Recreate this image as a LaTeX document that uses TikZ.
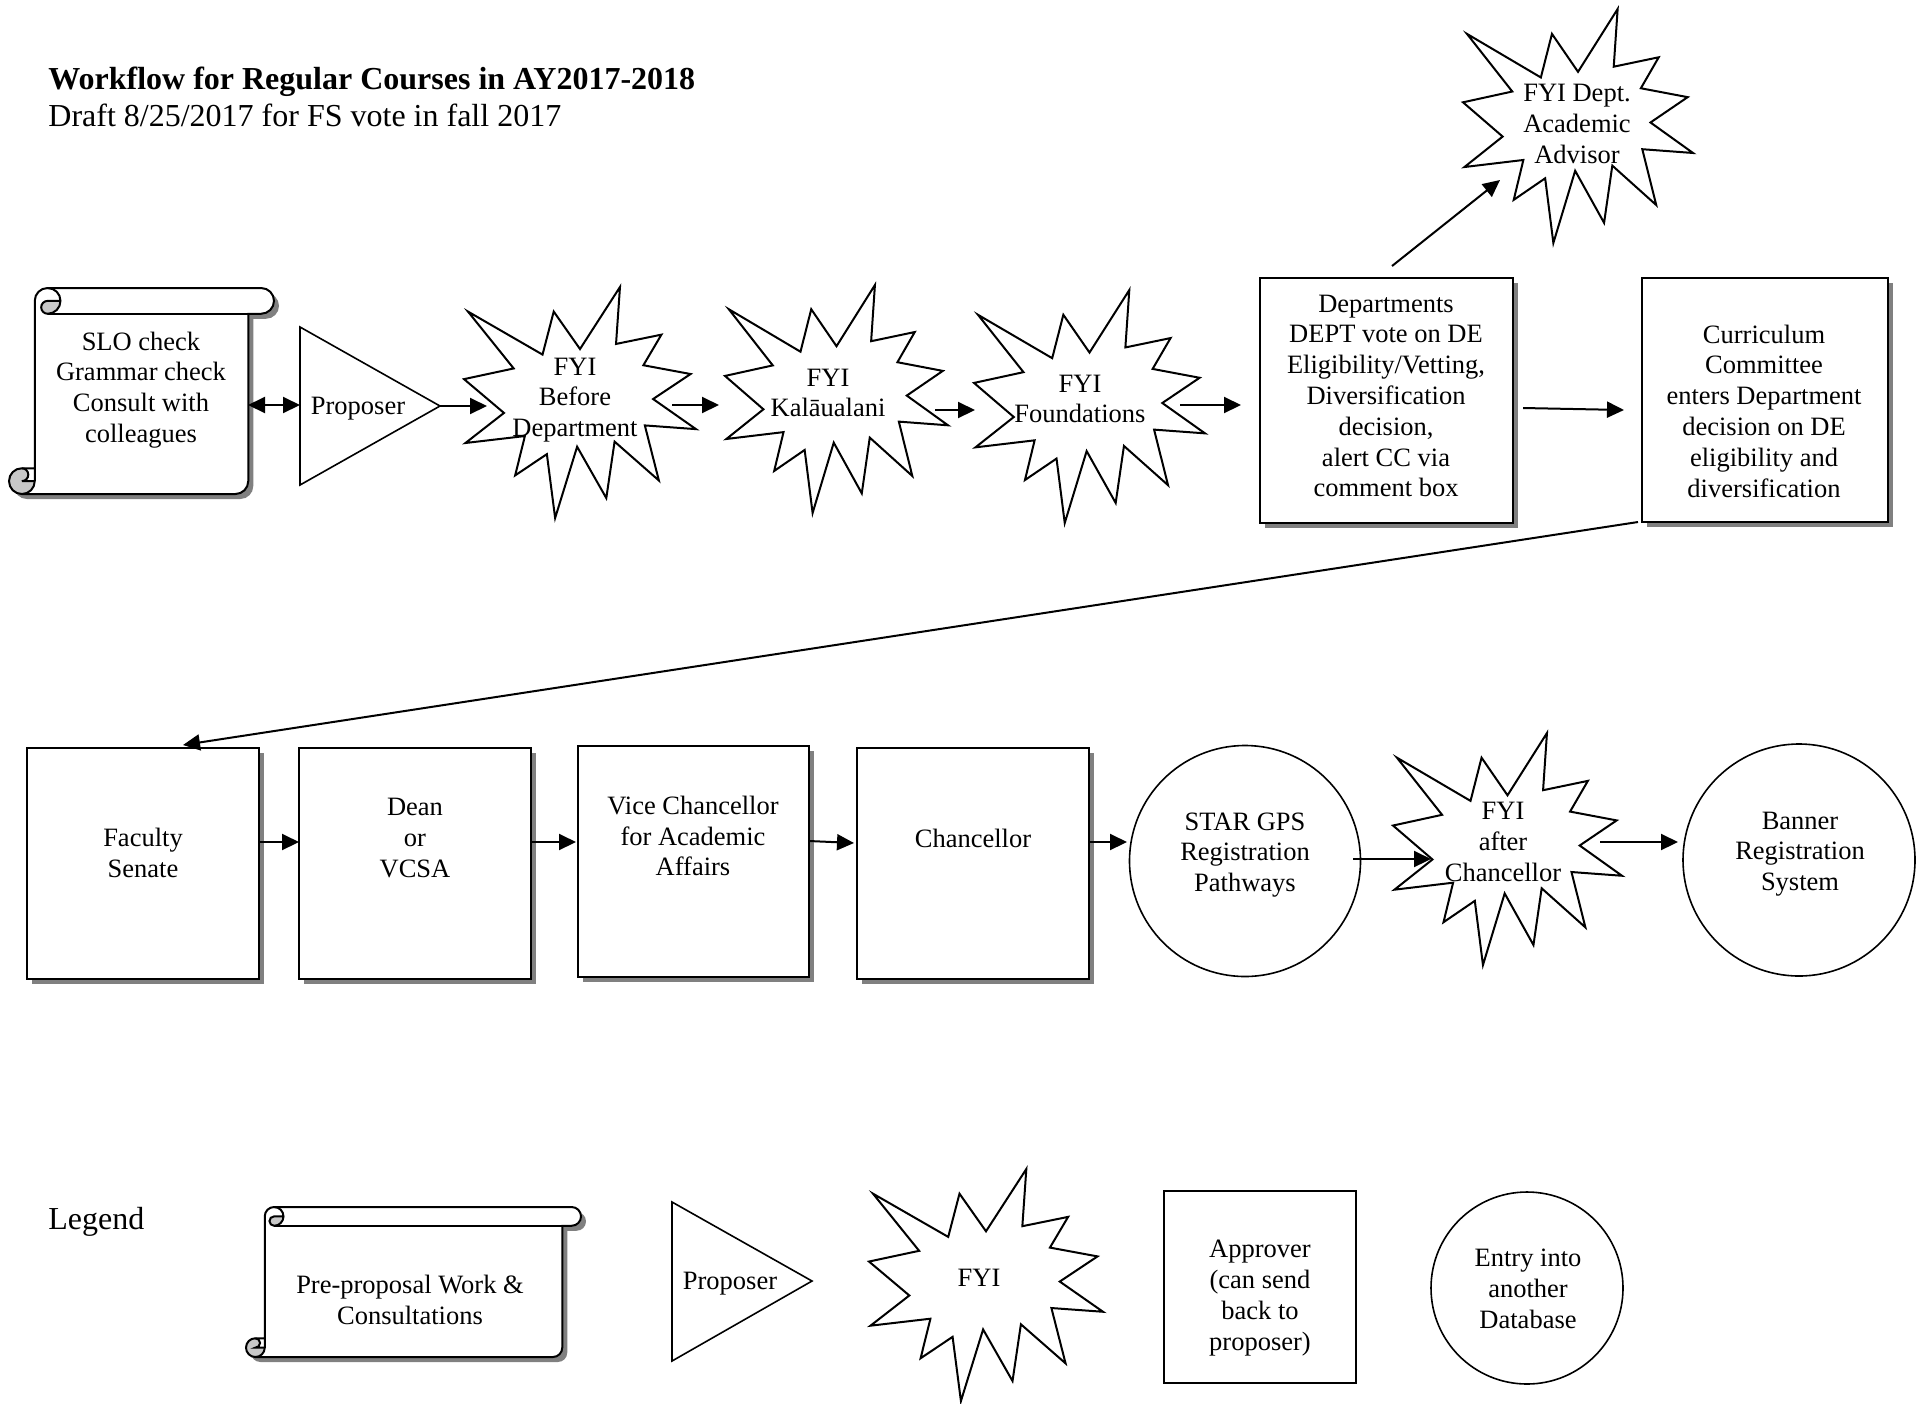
\documentclass[tikz,border=0pt]{standalone}
\usepackage{fontspec}
\setmainfont{Liberation Serif}
\usetikzlibrary{arrows.meta}
\definecolor{shadowgray}{RGB}{128,128,128}
\definecolor{curlgray}{RGB}{200,200,200}
\tikzset{
  txt/.style={align=center, font=\fontsize{13.25}{15.4}\selectfont, inner sep=0pt},
  ttl/.style={anchor=west, font=\fontsize{16}{19}\selectfont, inner sep=0pt},
  outl/.style={draw=black, line width=1pt, fill=white},
  conn/.style={line width=1pt, -{Triangle[length=8.5pt,width=8pt]}},
  dconn/.style={line width=1pt, {Triangle[length=8.5pt,width=8pt]}-{Triangle[length=8.5pt,width=8pt]}}
}
% irregular seal (explosion) polygon, unit square 0..100
\newcommand{\sealshape}[4]{%
 \begin{scope}[shift={(#1,#2)},xscale=#3,yscale=#4]
 \draw[outl] (50,26.85) -- (67.23,0) -- (65.53,24.65) -- (85.09,20.63) -- (77.32,33.87) -- (97.67,37.67) -- (81.51,48.50) -- (100,61.53) -- (77.95,59.92) -- (84.00,83.77) -- (64.91,66.93) -- (61.33,91.38) -- (48.76,69.14) -- (39.28,100) -- (35.72,72.35) -- (22.05,81.56) -- (26.24,64.52) -- (0.63,67.53) -- (17.23,54.51) -- (0,39.88) -- (21.42,35.26) -- (1.71,10.63) -- (33.85,29.26) -- (38.67,10.63) -- cycle;
 \end{scope}}
\newcommand{\scrollbody}[1]{\path[#1] (\sA,\sYc) -- (\sA,\sB) arc[start angle=180,delta angle=90,radius=\sB] -- (\sXg,0) arc[start angle=270,delta angle=180,radius=\sB] -- (\sXf,\sA) -- (\sXf,\sYd) arc[start angle=0,delta angle=90,radius=\sB] -- (\sB,\sY) arc[start angle=90,delta angle=180,radius=\sB] -- cycle;}
\newcommand{\scrollshape}[5]{%
 \pgfmathsetmacro{\sA}{#5}%
 \pgfmathsetmacro{\sB}{#5/2}%
 \pgfmathsetmacro{\sC}{#5/4}%
 \pgfmathsetmacro{\sR}{#3-#1}%
 \pgfmathsetmacro{\sY}{#4-#2}%
 \pgfmathsetmacro{\sXc}{1.5*#5}%
 \pgfmathsetmacro{\sXd}{2*#5}%
 \pgfmathsetmacro{\sXf}{\sR-#5}%
 \pgfmathsetmacro{\sXg}{\sR-#5/2}%
 \pgfmathsetmacro{\sYc}{\sY-#5}%
 \pgfmathsetmacro{\sYd}{\sY-#5/2}%
 \begin{scope}[shift={(#1+5,#2+5)}]\scrollbody{fill=shadowgray}\end{scope}
 \begin{scope}[shift={(#1,#2)}]
  \scrollbody{fill=white}
  \fill[curlgray] (\sXd,\sB) arc[start angle=0,delta angle=90,radius=\sB] arc[start angle=90,delta angle=180,radius=\sC] -- cycle;
  \fill[curlgray] (\sA,\sYd) arc[start angle=0,delta angle=270,radius=\sB] arc[start angle=270,delta angle=180,radius=\sC] -- cycle;
  \scrollbody{draw=black,line width=1pt}
  \draw[line width=1pt] (\sXc,0) arc[start angle=270,delta angle=180,radius=\sB] arc[start angle=90,delta angle=180,radius=\sC] -- (\sXd,\sB);
  \draw[line width=1pt] (\sXf,\sA) -- (\sXc,\sA);
  \draw[line width=1pt] (\sB,\sYc) arc[start angle=270,delta angle=180,radius=\sC] -- (\sA,\sYd);
  \draw[line width=1pt] (\sB,\sY) arc[start angle=90,delta angle=-90,radius=\sB] -- (\sA,\sYc);
 \end{scope}}
\newcommand{\shadowbox}[4]{%
 \fill[shadowgray] (#1+5,#2+5) rectangle (#3+5,#4+5);
 \draw[outl] (#1,#2) rectangle (#3,#4);}
\begin{document}
\begin{tikzpicture}[x=0.5pt,y=-0.5pt]
\fill[white] (0,0) rectangle (1931,1403);
\useasboundingbox (0,0) rectangle (1931,1403);

% title
\node[ttl, font=\fontsize{16}{19}\selectfont\bfseries] (title) at (48,82) {Workflow for Regular Courses in AY2017-2018};
\node[ttl] (subtitle) at (48,115) {Draft 8/25/2017 for FS vote in fall 2017};

% ---------- row 1 shapes
\scrollshape{9}{288}{274}{494}{25.75}
\draw[outl, line width=0.8pt] (300,327) -- (440,406) -- (300,485) -- cycle;
\sealshape{464}{287}{2.32}{2.31}
\sealshape{725}{285}{2.23}{2.28}
\sealshape{974}{290}{2.31}{2.33}
\shadowbox{1260}{278}{1513}{523}
\shadowbox{1642}{278}{1888}{522}
\sealshape{1463}{9}{2.30}{2.34}

% row 1 texts
\node[txt] (scrolla) at (141,390) {SLO check\\Grammar check\\Consult with\\colleagues};
\node[txt] (propa) at (358,409) {Proposer};
\node[txt] (fyibefore) at (575,400) {FYI\\Before\\Department};
\node[txt] (fyikal) at (828,393) {FYI\\Kalāualani};
\node[txt] (fyifound) at (1080,399) {FYI\\Foundations};
\node[txt] (dept) at (1386,396) {Departments\\DEPT vote on DE\\Eligibility/Vetting,\\Diversification\\decision,\\alert CC via\\comment box};
\node[txt] (cc) at (1764,411) {Curriculum\\Committee\\enters Department\\decision on DE\\eligibility and\\diversification};
\node[txt] (advisor) at (1577,124) {FYI Dept.\\Academic\\Advisor};

% ---------- row 2 shapes
\shadowbox{27}{748}{259}{979}
\shadowbox{299}{748}{531}{979}
\shadowbox{578}{746}{809}{977}
\shadowbox{857}{748}{1089}{979}
\draw[outl, line width=0.8pt] (1245,861) circle[radius=115.5];
\sealshape{1393}{733}{2.29}{2.32}
\draw[outl, line width=0.8pt] (1799,860) circle[radius=116];

\node[txt] (fs) at (143,853) {Faculty\\Senate};
\node[txt] (dean) at (415,838) {Dean\\or\\VCSA};
\node[txt] (vc) at (693,836) {Vice Chancellor\\for Academic\\Affairs};
\node[txt] (chan) at (973,838) {Chancellor};
\node[txt] (star) at (1245,855) {STAR GPS\\Registration\\Pathways};
\node[txt] (fyiafter) at (1503,842) {FYI\\after\\Chancellor};
\node[txt] (banner) at (1800,854) {Banner\\Registration\\System};

% ---------- legend
\node[ttl] (legend) at (48,1222) {Legend};
\scrollshape{246}{1207}{581}{1357}{18.75}
\draw[outl, line width=0.8pt] (672,1202) -- (812,1281) -- (672,1361) -- cycle;
\sealshape{869}{1169}{2.34}{2.32}
\draw[outl] (1164,1191) rectangle (1356,1383);
\draw[outl, line width=0.8pt] (1527,1288) circle[radius=96];

\node[txt] (scrollb) at (410,1300) {Pre-proposal Work \&\\Consultations};
\node[txt] (propb) at (730,1284) {Proposer};
\node[txt] (fyileg) at (979,1278) {FYI};
\node[txt] (approver) at (1260,1298) {Approver\\(can send\\back to\\proposer)};
\node[txt] (entry) at (1528,1289) {Entry into\\another\\Database};

% ---------- connector end points
\coordinate (a1s) at (248,405);  \coordinate (a1e) at (300,405);
\coordinate (a2s) at (440,406);  \coordinate (a2e) at (487,406);
\coordinate (a3s) at (672,405);  \coordinate (a3e) at (719,405);
\coordinate (a4s) at (935,410);  \coordinate (a4e) at (975,410);
\coordinate (a5s) at (1180,405); \coordinate (a5e) at (1241,405);
\coordinate (a6s) at (1523,408); \coordinate (a6e) at (1624,410);
\coordinate (a7s) at (1392,266); \coordinate (a7e) at (1500,180);
\coordinate (a8s) at (1638,522); \coordinate (a8e) at (183,745);
\coordinate (a9s) at (259,842);  \coordinate (a9e) at (299,842);
\coordinate (a10s) at (531,842); \coordinate (a10e) at (576,842);
\coordinate (a11s) at (809,841); \coordinate (a11e) at (854,843);
\coordinate (a12s) at (1089,842); \coordinate (a12e) at (1127,842);
\coordinate (a13s) at (1353,859); \coordinate (a13e) at (1431,859);
\coordinate (a14s) at (1600,842); \coordinate (a14e) at (1678,842);

\draw[dconn] (a1s) -- (a1e);
\draw[conn] (a2s) -- (a2e);
\draw[conn] (a3s) -- (a3e);
\draw[conn] (a4s) -- (a4e);
\draw[conn] (a5s) -- (a5e);
\draw[conn] (a6s) -- (a6e);
\draw[conn] (a7s) -- (a7e);
\draw[conn] (a8s) -- (a8e);
\draw[conn] (a9s) -- (a9e);
\draw[conn] (a10s) -- (a10e);
\draw[conn] (a11s) -- (a11e);
\draw[conn] (a12s) -- (a12e);
\draw[conn] (a13s) -- (a13e);
\draw[conn] (a14s) -- (a14e);
\end{tikzpicture}
\end{document}
